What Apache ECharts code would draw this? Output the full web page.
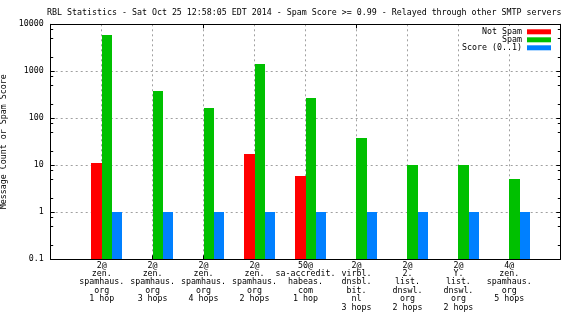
<!DOCTYPE html>
<html>
<head>
<meta charset="utf-8">
<script src="https://cdn.jsdelivr.net/npm/echarts@6/dist/echarts.min.js"></script>
<style>
  html, body { margin: 0; padding: 0; background: #fff; }
  #chart { width: 576px; height: 324px; }
</style>
</head>
<body>
<div id="chart"></div>
<script>
// RBL hit counts per blocklist zone / relay depth
const categories = [
  '2@\nzen.\nspamhaus.\norg\n1 hop',
  '2@\nzen.\nspamhaus.\norg\n3 hops',
  '2@\nzen.\nspamhaus.\norg\n4 hops',
  '2@\nzen.\nspamhaus.\norg\n2 hops',
  '50@\nsa-accredit.\nhabeas.\ncom\n1 hop',
  '2@\nvirbl.\ndnsbl.\nbit.\nnl\n3 hops',
  '2@\n2.\nlist.\ndnswl.\norg\n2 hops',
  '2@\nY.\nlist.\ndnswl.\norg\n2 hops',
  '4@\nzen.\nspamhaus.\norg\n5 hops'
];
const notSpam = [11, null, null, 17, 6, null, null, null, null];
const spam = [5900, 380, 166, 1430, 270, 38, 10, 10, 5];
const score = [1, 1, 1, 1, 1, 1, 1, 1, 1];

// log axis: major decades and the 2/5/8 minor tics of each decade
const yMin = 0.1;
const yMax = 10000;
const minorTickValues = [0.2, 0.5, 0.8, 2, 5, 8, 20, 50, 80, 200, 500, 800, 2000, 5000, 8000];

const FONT = "'DejaVu Sans Mono', 'Liberation Mono', monospace";
const FS = 8.3;

// box width as a fraction of the category spacing
const BOX_FRAC = 0.2022;

// one empty slot on each side so the groups sit on ticks 1..9 of 10 intervals
const xData = [''].concat(categories, ['']);
const toPairs = (arr) => arr
  .map((v, i) => [i + 1, v])
  .filter(p => p[1] != null);

const logMin = Math.log10(yMin);
const logMax = Math.log10(yMax);
const minorLog = minorTickValues.map(v => Math.log10(v));

const dashed = { show: true, lineStyle: { color: '#a0a0a0', width: 1, type: [2, 3] } };

// boxes rise from the bottom of the log axis; slot -1/0/+1 places
// each series left of, on, or right of the category tick
function boxRenderer(slot) {
  return function (params, api) {
    const v = api.value(1);
    if (!(v > 0)) return null;
    const x = api.value(0);
    const top = api.coord([x, v]);
    const base = api.coord([x, yMin]);
    const w = api.size([1, 0])[0] * BOX_FRAC;
    const x0 = Math.round(top[0] + slot * w);
    const x1 = Math.round(top[0] + (slot + 1) * w);
    const y0 = Math.round(top[1]);
    const y1 = Math.round(base[1]);
    return {
      type: 'rect',
      shape: { x: x0, y: y0, width: x1 - x0, height: y1 - y0 },
      style: api.style()
    };
  };
}

const chart = echarts.init(document.getElementById('chart'), null, { renderer: 'canvas' });

chart.setOption({
  animation: false,
  backgroundColor: '#ffffff',
  textStyle: { fontFamily: FONT, fontSize: FS, color: '#000' },
  title: {
    text: 'RBL Statistics - Sat Oct 25 12:58:05 EDT 2014 - Spam Score >= 0.99 - Relayed through other SMTP servers',
    left: 47,
    top: 7.5,
    padding: 0,
    textStyle: { fontFamily: FONT, fontSize: FS, fontWeight: 'normal', color: '#000', lineHeight: 10 }
  },
  legend: {
    data: ['Not Spam', 'Spam', 'Score (0..1)'],
    orient: 'vertical',
    align: 'right',
    right: 23,
    top: 25.5,
    padding: [2.3, 2, 1, 3],
    itemGap: 0,
    itemWidth: 24,
    itemHeight: 5,
    icon: 'rect',
    backgroundColor: '#ffffff',
    selectedMode: false,
    textStyle: { fontFamily: FONT, fontSize: FS, color: '#000', lineHeight: 7.8, padding: 0 }
  },
  grid: {
    left: 50.7, right: 15.7, top: 24.3, bottom: 64.7,
    containLabel: false,
    outerBoundsMode: 'none'
  },
  xAxis: [
    {
      type: 'category',
      data: xData,
      boundaryGap: false,
      position: 'bottom',
      axisLine: { show: true, onZero: false, lineStyle: { color: '#000', width: 1 } },
      axisTick: { show: true, inside: true, length: 4, lineStyle: { color: '#000' } },
      axisLabel: {
        show: true, interval: 0, margin: 2, color: '#000',
        fontFamily: FONT, fontSize: FS, lineHeight: 8.4, align: 'center'
      },
      splitLine: dashed
    },
    {
      type: 'category',
      data: xData,
      boundaryGap: false,
      position: 'top',
      axisLine: { show: true, onZero: false, lineStyle: { color: '#000', width: 1 } },
      axisTick: { show: true, inside: true, length: 4, lineStyle: { color: '#000' } },
      axisLabel: { show: false },
      splitLine: { show: false }
    }
  ],
  yAxis: [
    {
      type: 'log',
      logBase: 10,
      min: yMin,
      max: yMax,
      position: 'left',
      name: 'Message Count or Spam Score',
      nameLocation: 'middle',
      nameGap: 39,
      nameRotate: 90,
      nameTextStyle: { fontFamily: FONT, fontSize: FS, color: '#000' },
      axisLine: { show: true, onZero: false, lineStyle: { color: '#000', width: 1 } },
      axisTick: { show: true, inside: true, length: 4, lineStyle: { color: '#000' } },
      axisLabel: {
        show: true, margin: 7, color: '#000', fontFamily: FONT, fontSize: FS,
        formatter: (v) => String(Number(v.toPrecision(6)))
      },
      splitLine: dashed,
      minorTick: { show: false }
    },
    {
      type: 'value',
      min: logMin,
      max: logMax,
      interval: 1,
      position: 'right',
      axisLine: { show: true, onZero: false, lineStyle: { color: '#000', width: 1 } },
      axisTick: { show: true, inside: true, length: 4, lineStyle: { color: '#000' } },
      axisLabel: { show: false },
      splitLine: { show: false }
    },
    {
      type: 'value',
      min: logMin,
      max: logMax,
      position: 'left',
      axisLine: { show: false, onZero: false },
      axisTick: { show: true, inside: true, length: 2.5, customValues: minorLog, lineStyle: { color: '#000' } },
      axisLabel: { show: false },
      splitLine: { show: false }
    },
    {
      type: 'value',
      min: logMin,
      max: logMax,
      position: 'right',
      axisLine: { show: false, onZero: false },
      axisTick: { show: true, inside: true, length: 2.5, customValues: minorLog, lineStyle: { color: '#000' } },
      axisLabel: { show: false },
      splitLine: { show: false }
    }
  ],
  series: [
    {
      name: 'Not Spam',
      type: 'custom',
      renderItem: boxRenderer(-1),
      encode: { x: 0, y: 1 },
      data: toPairs(notSpam),
      itemStyle: { color: '#ff0000' },
      z: 3
    },
    {
      name: 'Spam',
      type: 'custom',
      renderItem: boxRenderer(0),
      encode: { x: 0, y: 1 },
      data: toPairs(spam),
      itemStyle: { color: '#00c000' },
      z: 3
    },
    {
      name: 'Score (0..1)',
      type: 'custom',
      renderItem: boxRenderer(1),
      encode: { x: 0, y: 1 },
      data: toPairs(score),
      itemStyle: { color: '#0080ff' },
      z: 3
    }
  ]
});
</script>
</body>
</html>
